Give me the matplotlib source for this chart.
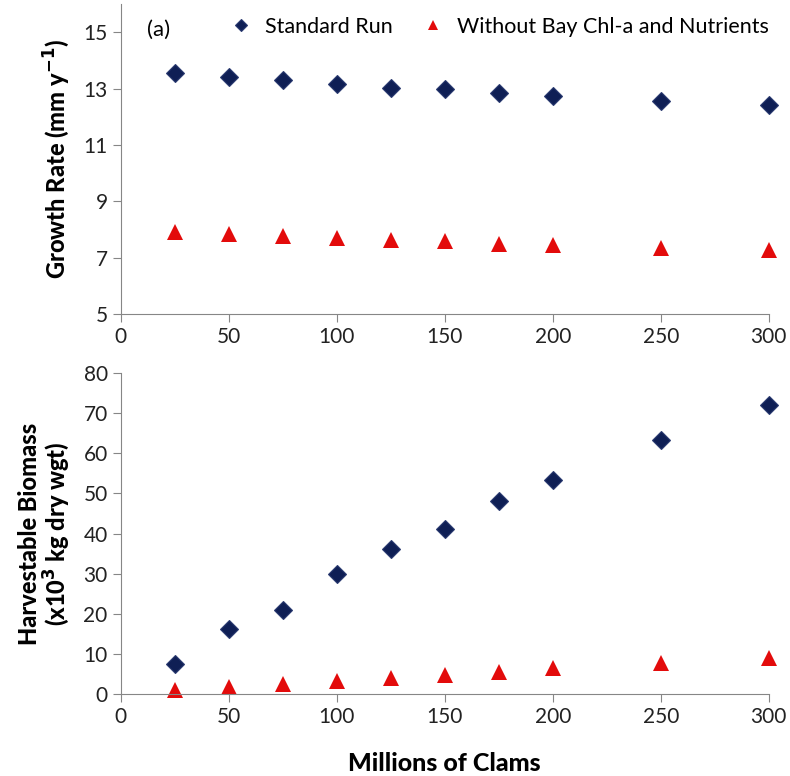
"""
Growth rate and harvestable biomass vs number of clams
"""
import matplotlib.pyplot as plt
import numpy as np

plt.rcParams['font.family'] = ['Lato', 'DejaVu Sans']

# Data
clams = [25, 50, 75, 100, 125, 150, 175, 200, 250, 300]
growth_std = [13.55, 13.4, 13.3, 13.15, 13.03, 12.98, 12.85, 12.72, 12.55, 12.4]
growth_nobay = [7.9, 7.85, 7.78, 7.68, 7.62, 7.58, 7.5, 7.45, 7.35, 7.27]
biomass_std = [7.5, 16.2, 21.0, 30.0, 36.2, 41.1, 48.1, 53.4, 63.3, 72.0]
biomass_nobay = [1.0, 1.7, 2.5, 3.2, 4.0, 4.7, 5.5, 6.4, 7.7, 9.0]

x_ticks = [0, 50, 100, 150, 200, 250, 300]
top_yticks = [5, 7, 9, 11, 13, 15]
bot_yticks = [0, 10, 20, 30, 40, 50, 60, 70, 80]

navy = '#0f1f55'
red = '#e30b0b'
spine_col = '#868686'

fig = plt.figure(figsize=(7.9, 7.76), dpi=100)
ax1 = fig.add_axes([0.153, 0.5954, 0.82, 0.3994])
ax2 = fig.add_axes([0.153, 0.1057, 0.82, 0.4136])

for ax in (ax1, ax2):
    ax.spines['top'].set_visible(False)
    ax.spines['right'].set_visible(False)
    ax.spines['left'].set_color(spine_col)
    ax.spines['bottom'].set_color(spine_col)
    ax.tick_params(direction='out', color=spine_col, length=6, labelsize=15,
                   labelcolor='#222222')
    ax.set_xlim(0, 300)
    ax.set_xticks(x_ticks)

# Top panel
ax1.plot(clams, growth_std, 'D', color=navy, ms=9, mec='#2a3a70', mew=0.8,
         clip_on=False, label='Standard Run')
ax1.plot(clams, growth_nobay, '^', color=red, ms=12, mew=0, clip_on=False,
         label='Without Bay Chl-a and Nutrients')
ax1.set_ylim(5, 16)
ax1.set_yticks(top_yticks)
ax1.set_ylabel('Growth Rate (mm y$^{\\mathbf{-1}}$)', fontsize=17,
               fontweight='black', labelpad=8)
ax1.text(0.04, 0.95, '(a)', transform=ax1.transAxes, fontsize=16,
         va='top', ha='left')
ax1.legend(loc='upper right', bbox_to_anchor=(1.02, 1.0), ncol=2,
           frameon=False, fontsize=15.5, handletextpad=0.1,
           columnspacing=0.9, markerscale=0.65, borderaxespad=0.2)

# Bottom panel
ax2.plot(clams, biomass_std, 'D', color=navy, ms=9, mec='#2a3a70', mew=0.8,
         clip_on=False)
ax2.plot(clams, biomass_nobay, '^', color=red, ms=12, mew=0, clip_on=False)
ax2.set_ylim(0, 80)
ax2.set_yticks(bot_yticks)
ax2.set_ylabel('Harvestable Biomass\n(x10$^{\\mathbf{3}}$ kg dry wgt)',
               fontsize=17, fontweight='black', labelpad=8, linespacing=1.05)
ax2.set_xlabel('Millions of Clams', fontsize=18, fontweight='black',
               labelpad=18)

fig.savefig('out.png', dpi=100)
